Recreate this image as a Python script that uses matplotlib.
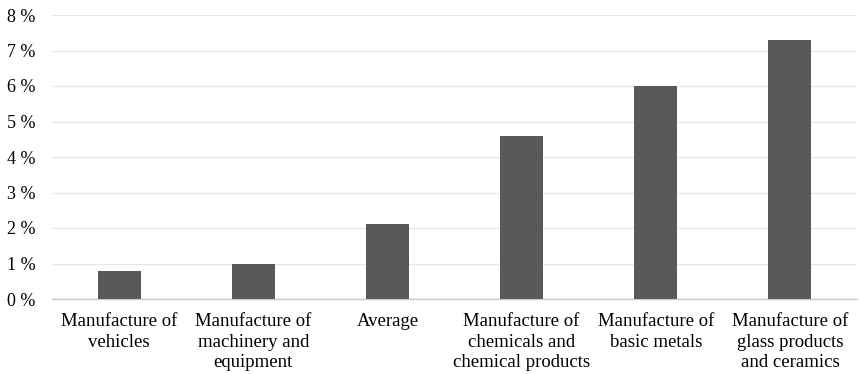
import matplotlib
matplotlib.use("Agg")
import matplotlib.pyplot as plt
from matplotlib.ticker import FuncFormatter

categories = [
    "Manufacture of\nvehicles",
    "Manufacture of\nmachinery and\nequipment",
    "Average",
    "Manufacture of\nchemicals and\nchemical products",
    "Manufacture of\nbasic metals",
    "Manufacture of\nglass products\nand ceramics",
]
values = [0.8, 1.0, 2.1, 4.6, 6.0, 7.3]
y_ticks = [0, 1, 2, 3, 4, 5, 6, 7, 8]

plt.rcParams["font.family"] = ["Liberation Serif", "DejaVu Serif"]

fig = plt.figure(figsize=(8.59, 3.74), dpi=100)
ax = fig.add_axes([52 / 859, 1 - 299 / 374, 805 / 859, 284 / 374])

x = list(range(len(categories)))
ax.bar(x, values, width=0.32, color="#595959", zorder=3)

ax.set_xlim(-0.5, len(categories) - 0.5)
ax.set_ylim(0, 8)
ax.set_yticks(y_ticks)
ax.yaxis.set_major_formatter(FuncFormatter(lambda v, p: f"{int(v)} %"))
ax.set_xticks(x)
ax.set_xticklabels(categories, fontsize=13.5, linespacing=1.28)
ax.tick_params(axis="y", labelsize=13, length=0, pad=12)
ax.tick_params(axis="x", length=0, pad=10)

ax.grid(axis="y", color="#e6e6e6", linewidth=1, zorder=0)
for side in ("top", "right", "left"):
    ax.spines[side].set_visible(False)
ax.spines["bottom"].set_color("#c8c8c8")
ax.spines["bottom"].set_linewidth(1)

fig.savefig("out.png", dpi=100)
